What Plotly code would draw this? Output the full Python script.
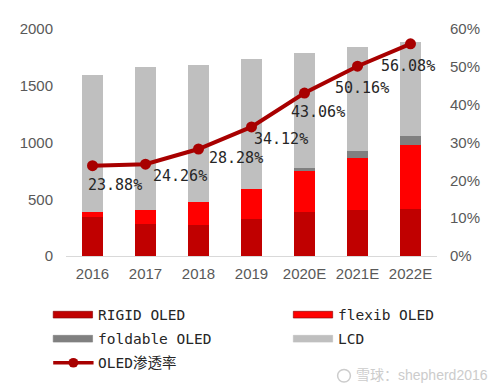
import plotly.graph_objects as go

# ---------------- data ----------------
years = ["2016", "2017", "2018", "2019", "2020E", "2021E", "2022E"]
rigid_oled = [340, 282, 277, 328, 384, 404, 415]
flexib_oled = [45, 127, 198, 265, 364, 463, 565]
foldable_oled = [0, 0, 0, 0, 26, 59, 79]
lcd = [1206, 1258, 1209, 1144, 1014, 913, 828]
oled_rate = [23.88, 24.26, 28.28, 34.12, 43.06, 50.16, 56.08]  # percent
rate_labels = ["23.88%", "24.26%", "28.28%", "34.12%", "43.06%", "50.16%", "56.08%"]

# ---------------- style ----------------
OFF = 8                      # page body margin of the html page
W, H = 504 - OFF, 392 - OFF
ML, MR, MT, MB = 60 - OFF, 67, 20 - OFF, 136
C_RIGID = "#C00000"
C_FLEX = "#FF0000"
C_FOLD = "#808080"
C_LCD = "#BFBFBF"
C_LINE = "#A80000"
TICK_FONT = dict(family="Liberation Sans, Arial", size=15, color="#595959")
MONO = "DejaVu Sans Mono, Noto Sans CJK SC"
# label offsets (pixels) relative to each marker: (dx to label left edge, dy down to label centre)
label_shift = [(-6, 19), (6, 12), (9, 9), (1, 12), (-15, 19), (-24, 22), (-31, 22)]

fig = go.Figure()
for name, vals, col in [("RIGID OLED", rigid_oled, C_RIGID),
                        ("flexib OLED", flexib_oled, C_FLEX),
                        ("foldable OLED", foldable_oled, C_FOLD),
                        ("LCD", lcd, C_LCD)]:
    fig.add_trace(go.Bar(x=years, y=vals, name=name, marker=dict(color=col, line=dict(width=0)),
                         showlegend=False))

fig.add_trace(go.Scatter(x=years, y=[v / 100 for v in oled_rate], name="OLED渗透率", yaxis="y2",
                         mode="lines+markers", line=dict(color=C_LINE, width=4),
                         marker=dict(color=C_LINE, size=11), showlegend=False))

# category index positions for the value labels (numeric-looking category names
# would otherwise be read as positions by annotations)
for i, (v, t, (dx, dy)) in enumerate(zip(oled_rate, rate_labels, label_shift)):
    fig.add_annotation(x=i, y=v / 100, yref="y2", text=t, showarrow=False,
                       xanchor="left", yanchor="middle", xshift=dx, yshift=-dy,
                       borderpad=0, font=dict(family=MONO, size=15, color="#262626"))

# ---------------- manual legend (page pixel positions) ----------------
pw, ph = W - ML - MR, H - MT - MB
def px(x):
    return (x - OFF - ML) / pw
def py(y):
    return (H - MB - (y - OFF)) / ph

legend_items = [
    ("RIGID OLED", C_RIGID, 47, 317, "bar"),
    ("flexib OLED", C_FLEX, 291, 317, "bar"),
    ("foldable OLED", C_FOLD, 47, 342, "bar"),
    ("LCD", C_LCD, 291, 342, "bar"),
    ("OLED渗透率", C_LINE, 47, 367, "line"),
]
for text, col, x0, yc, kind in legend_items:
    if kind == "bar":
        fig.add_shape(type="rect", xref="paper", yref="paper",
                      x0=px(x0), x1=px(x0 + 40), y0=py(yc - 3.5), y1=py(yc + 3.5),
                      fillcolor=col, line=dict(width=0.6, color="#7F0000" if col in (C_RIGID, C_FLEX) else col))
    else:
        fig.add_shape(type="line", xref="paper", yref="paper",
                      x0=px(x0), x1=px(x0 + 41), y0=py(yc), y1=py(yc),
                      line=dict(color=col, width=3.5))
        fig.add_shape(type="circle", xref="paper", yref="paper",
                      x0=px(x0 + 15.5), x1=px(x0 + 25.5), y0=py(yc - 5), y1=py(yc + 5),
                      fillcolor=col, line=dict(width=0))
    fig.add_annotation(xref="paper", yref="paper", x=px(x0 + 44), y=py(yc), text=text,
                       showarrow=False, xanchor="left", yanchor="middle", borderpad=0,
                       font=dict(family=MONO, size=14.5, color="#262626"))

# watermark (logo ring + text)
fig.add_shape(type="circle", xref="paper", yref="paper",
              x0=px(336), x1=px(349), y0=py(374), y1=py(387),
              fillcolor="rgba(0,0,0,0)", line=dict(color="#CCCCCC", width=1.5))
fig.add_annotation(xref="paper", yref="paper", x=px(490), y=py(380), text="雪球：shepherd2016",
                   showarrow=False, xanchor="right", yanchor="middle", borderpad=0,
                   font=dict(family="Liberation Sans, Noto Sans CJK SC", size=14, color="#CCCCCC"))

fig.update_layout(
    width=W, height=H,
    margin=dict(l=ML, r=MR, t=MT, b=MB, pad=0),
    paper_bgcolor="white", plot_bgcolor="white",
    barmode="stack", bargap=0.59,
    xaxis=dict(type="category", range=[-0.5, len(years) - 0.5], showgrid=False, showline=True,
               linecolor="#D9D9D9", linewidth=1,
               tickfont=TICK_FONT, ticks="", ticklabelstandoff=4),
    yaxis=dict(range=[0, 2000], dtick=500, showgrid=False, zeroline=False,
               tickfont=TICK_FONT, ticks="", ticklabelstandoff=12),
    yaxis2=dict(range=[0, 0.6], dtick=0.1, tickformat=".0%", overlaying="y", side="right",
                showgrid=False, zeroline=False, tickfont=TICK_FONT, ticks="", ticklabelstandoff=12),
    showlegend=False,
)

fig.write_html("out.html")
